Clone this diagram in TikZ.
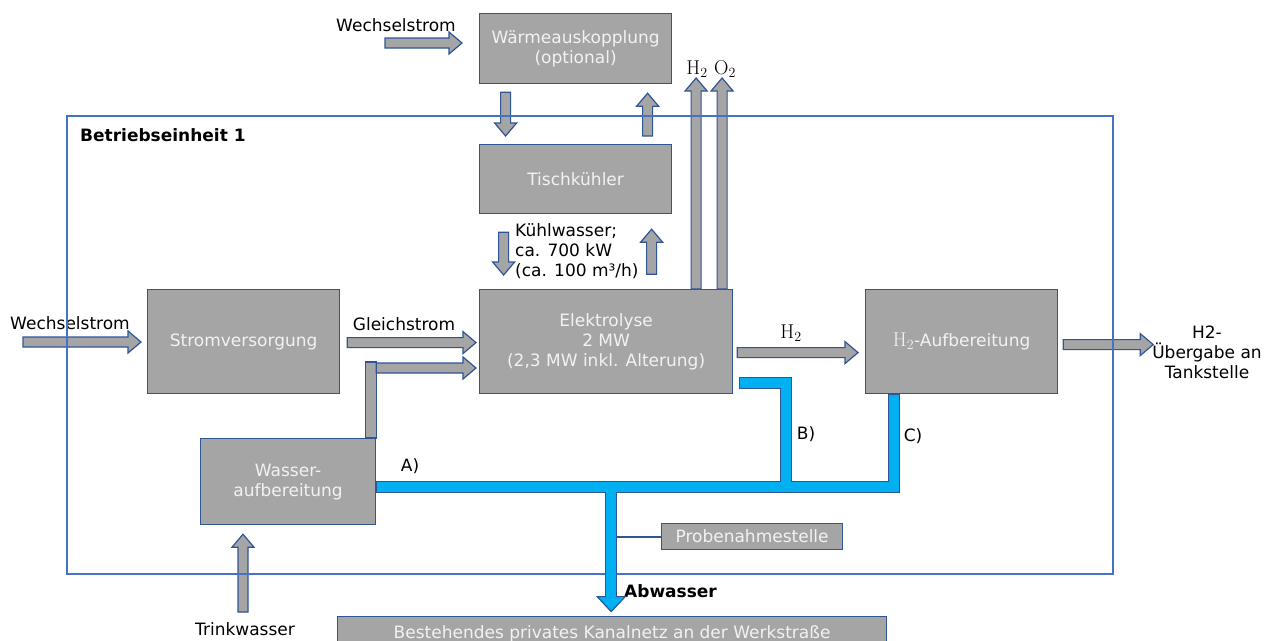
\documentclass[tikz,border=0pt]{standalone}
\usepackage{fontspec}
\setsansfont{DejaVu Sans}
\usetikzlibrary{positioning,calc}

\definecolor{boxgray}{HTML}{A5A5A5}
\definecolor{boxline}{HTML}{2F5597}
\definecolor{framebl}{HTML}{4472C4}
\definecolor{pipecyan}{HTML}{00B0F0}
\definecolor{boxtext}{HTML}{F2F2F2}

\tikzset{
  unit/.style={draw=boxline, fill=boxgray, line width=1.2pt, text=boxtext, anchor=north west,
    inner sep=0pt, align=center, font=\sffamily\fontsize{17}{20}\selectfont},
  lbl/.style={font=\sffamily\fontsize{17}{20}\selectfont, inner sep=0pt, align=center},
  blockarrow/.style={draw=boxline, fill=boxgray, line width=1.2pt, line join=miter},
  pipeout/.style={draw=boxline, line width=12pt, line cap=rect, line join=miter},
  pipein/.style={draw=pipecyan, line width=10pt, line cap=rect, line join=miter},
  frame/.style={draw=framebl, line width=1.2pt},
}

% chemical formulas in the serif
\newcommand{\chemf}[2]{{\rmfamily\fontsize{20}{20}\selectfont #1\textsubscript{#2}}}

% block arrows: #1 start, #2 tip
\newcommand{\arrR}[2]{\path[blockarrow] let \p1=#1, \p2=#2 in
  (\x1,\y1+5pt) -- (\x2-13pt,\y1+5pt) -- (\x2-13pt,\y1+11pt) -- (\x2,\y1)
  -- (\x2-13pt,\y1-11pt) -- (\x2-13pt,\y1-5pt) -- (\x1,\y1-5pt) -- cycle;}
\newcommand{\arrU}[2]{\path[blockarrow] let \p1=#1, \p2=#2 in
  (\x1-5pt,\y1) -- (\x1-5pt,\y2-13pt) -- (\x1-11pt,\y2-13pt) -- (\x1,\y2)
  -- (\x1+11pt,\y2-13pt) -- (\x1+5pt,\y2-13pt) -- (\x1+5pt,\y1) -- cycle;}
\newcommand{\arrD}[2]{\path[blockarrow] let \p1=#1, \p2=#2 in
  (\x1-5pt,\y1) -- (\x1-5pt,\y2+13pt) -- (\x1-11pt,\y2+13pt) -- (\x1,\y2)
  -- (\x1+11pt,\y2+13pt) -- (\x1+5pt,\y2+13pt) -- (\x1+5pt,\y1) -- cycle;}

\begin{document}
\begin{tikzpicture}[x=1pt,y=-1pt]
\clip (0,0) rectangle (1274,640);

% units
\node[unit, minimum width=192, minimum height=70] (waerme) at (479,13) {Wärmeauskopplung\\(optional)};
\node[unit, minimum width=192, minimum height=69] (tisch) at (479,144) {Tischkühler};
\node[unit, minimum width=253, minimum height=104] (elek) at (479,289) {Elektrolyse\\2 MW\\(2,3 MW inkl. Alterung)};
\node[unit, minimum width=192, minimum height=104] (strom) at (147,289) {Stromversorgung};
\node[unit, minimum width=192, minimum height=104] (h2auf) at (865,289) {\chemf{H}{2}-Aufbereitung};
\node[unit, minimum width=175, minimum height=86] (wasser) at (200,438) {Wasser-\\aufbereitung};
\node[unit, minimum width=181, minimum height=26] (probe) at (661,523) {Probenahmestelle};
\node[unit, minimum width=549, minimum height=34] (kanal) at (337,616) {Bestehendes privates Kanalnetz an der Werkstraße};

% labels
\node[lbl] (acTopLbl) at (396,25) {Wechselstrom};
\node[lbl] (acLbl) at (70,323) {Wechselstrom};
\node[lbl] (dcLbl) at (404,324) {Gleichstrom};
\node[lbl, anchor=west, align=left] (kuehlLbl) at (515,251) {Kühlwasser;\\ca. 700 kW\\(ca. 100 m³/h)};
\node[lbl] (h2TopLbl) at (697,69) {\chemf{H}{2}};
\node[lbl] (o2TopLbl) at (725,69) {\chemf{O}{2}};
\node[lbl] (h2Lbl) at (791,333) {\chemf{H}{2}};
\node[lbl] (tankLbl) at (1207,352) {H2-\\Übergabe an\\Tankstelle};
\node[lbl] (trinkLbl) at (245,629) {Trinkwasser};
\node[lbl] (aLbl) at (410,466) {A)};
\node[lbl] (bLbl) at (806,434) {B)};
\node[lbl] (cLbl) at (913,436) {C)};
\node[lbl, anchor=west, font=\sffamily\bfseries\fontsize{17}{20}\selectfont] (abwLbl) at (624,591) {Abwasser};
\node[lbl, anchor=west, font=\sffamily\bfseries\fontsize{17}{20}\selectfont] (beLbl) at (80,135) {Betriebseinheit 1};

% free ends
\coordinate (acTopIn) at (385,43);
\coordinate (acIn) at (23,342);
\coordinate (trinkIn) at (243,612);

% power and heat
\arrR{(acTopIn)}{($(waerme.west)+(-17,0)$)}
\arrD{($(waerme.south)+(-70,8)$)}{($(tisch.north)+(0,-8)$)}
\arrU{($(tisch.north)+(72,-8)$)}{($(waerme.south)+(0,9)$)}
\arrD{($(tisch.south)+(-72,18)$)}{($(elek.north)+(0,-14)$)}
\arrU{($(tisch.south)+(76,60)$)}{($(tisch.south)+(0,15)$)}
\arrU{($(elek.north)+(90,0)$)}{($(waerme.north)+(0,65)$)}
\arrU{($(elek.north)+(116,0)$)}{($(waerme.north)+(0,65)$)}
\arrR{(acIn)}{($(strom.west)+(-6,0)$)}
\arrR{($(strom.east)+(7,1)$)}{($(elek.west)+(-3,0)$)}
% water feed
\path[blockarrow] (wasser.north east) ++(-11,0) rectangle ++(11,-76);
\arrR{($(wasser.north east)+(0,-70)$)}{($(elek.west)+(-3,0)$)}
\arrU{(trinkIn)}{($(wasser.south)+(0,9)$)}
% hydrogen
\arrR{($(elek.east)+(4,11)$)}{($(h2auf.west)+(-7,0)$)}
\arrR{($(h2auf.east)+(5,3)$)}{($(h2auf.east)+(95,0)$)}

% Betriebseinheit
\draw[frame] (67,116) rectangle (1113,574);

% waste water
\coordinate (pipeL) at ($(wasser.east)+(6,5)$);
\coordinate (pipeC) at ($(h2auf.south)+(-68,6)$);
\coordinate (pipeB) at ($(elek.east)+(12,41)$);
\coordinate (pipeBc) at ($(pipeB)+(41,0)$);
\coordinate (drainTop) at ($(pipeL)+(229,0)$);
\coordinate (drainTip) at ($(drainTop)+(0,125)$);
\draw[draw=boxline, line width=2pt] (probe.west -| drainTop) -- (probe.west);
\draw[pipeout] (pipeL) -- (pipeL -| pipeC) -- (pipeC);
\draw[pipeout] (pipeB) -- (pipeBc) -- (pipeBc |- pipeL);
\draw[pipeout] (drainTop) -- ($(drainTip)+(0,-15)$);
\path[draw=boxline, fill=pipecyan, line width=1.2pt] ($(drainTip)+(-14,-15)$) -- (drainTip) -- ($(drainTip)+(14,-15)$) -- cycle;
\draw[pipein] (pipeL) -- (pipeL -| pipeC) -- (pipeC);
\draw[pipein] (pipeB) -- (pipeBc) -- (pipeBc |- pipeL);
\draw[pipein] (drainTop) -- ($(drainTip)+(0,-20)$);
\end{tikzpicture}
\end{document}
